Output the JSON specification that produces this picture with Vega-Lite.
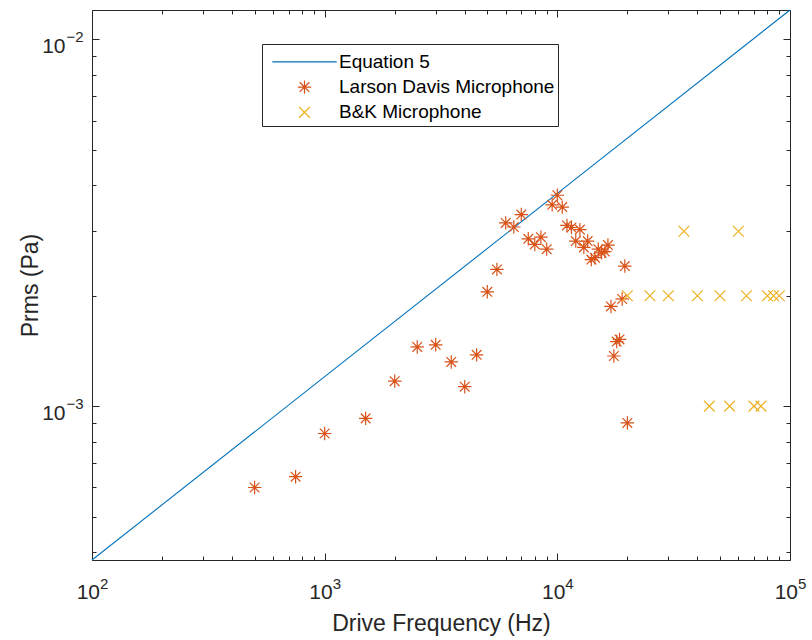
{
  "$schema": "https://vega.github.io/schema/vega-lite/v6.json",
  "width": 698,
  "height": 550,
  "autosize": {"type": "none"},
  "padding": {"left": 92, "top": 10, "right": 22, "bottom": 80},
  "background": "white",
  "config": {
    "view": {"stroke": "#262626", "strokeWidth": 1},
    "axis": {
      "grid": false,
      "domain": false,
      "labelFont": "Liberation Sans",
      "titleFont": "Liberation Sans",
      "labelColor": "#262626",
      "titleColor": "#262626",
      "tickColor": "#262626",
      "tickWidth": 1,
      "labelOverlap": false,
      "labelFlush": false,
      "labelBound": false,
      "titleFontWeight": "normal"
    },
    "legend": {
      "padding": 3,
      "strokeColor": "#262626",
      "fillColor": "white",
      "labelFont": "Liberation Sans",
      "labelFontSize": 19,
      "labelColor": "#000000",
      "labelLimit": 0,
      "symbolSize": 180,
      "symbolStrokeWidth": 1.2,
      "rowPadding": 5.3,
      "symbolOffset": 30,
      "labelOffset": 25,
      "titleFontSize": 1,
      "titlePadding": 4.3
    }
  },
  "datasets": {
    "equation": [
      {"f": 100, "p": 0.0003805},
      {"f": 1000, "p": 0.0012033},
      {"f": 10000, "p": 0.003805},
      {"f": 100000, "p": 0.012033}
    ],
    "larson": [
      {"f": 500, "p": 0.000600, "series": "Larson Davis Microphone"},
      {"f": 750, "p": 0.000642, "series": "Larson Davis Microphone"},
      {"f": 1000, "p": 0.000842, "series": "Larson Davis Microphone"},
      {"f": 1500, "p": 0.000926, "series": "Larson Davis Microphone"},
      {"f": 2000, "p": 0.00117, "series": "Larson Davis Microphone"},
      {"f": 2500, "p": 0.00145, "series": "Larson Davis Microphone"},
      {"f": 3000, "p": 0.00147, "series": "Larson Davis Microphone"},
      {"f": 3500, "p": 0.00132, "series": "Larson Davis Microphone"},
      {"f": 4000, "p": 0.00113, "series": "Larson Davis Microphone"},
      {"f": 4500, "p": 0.00138, "series": "Larson Davis Microphone"},
      {"f": 5000, "p": 0.00205, "series": "Larson Davis Microphone"},
      {"f": 5500, "p": 0.00236, "series": "Larson Davis Microphone"},
      {"f": 6000, "p": 0.00316, "series": "Larson Davis Microphone"},
      {"f": 6500, "p": 0.00308, "series": "Larson Davis Microphone"},
      {"f": 7000, "p": 0.00333, "series": "Larson Davis Microphone"},
      {"f": 7500, "p": 0.00286, "series": "Larson Davis Microphone"},
      {"f": 8000, "p": 0.00276, "series": "Larson Davis Microphone"},
      {"f": 8500, "p": 0.00289, "series": "Larson Davis Microphone"},
      {"f": 9000, "p": 0.00268, "series": "Larson Davis Microphone"},
      {"f": 9500, "p": 0.00354, "series": "Larson Davis Microphone"},
      {"f": 10000, "p": 0.00376, "series": "Larson Davis Microphone"},
      {"f": 10500, "p": 0.00349, "series": "Larson Davis Microphone"},
      {"f": 11000, "p": 0.00311, "series": "Larson Davis Microphone"},
      {"f": 11500, "p": 0.00307, "series": "Larson Davis Microphone"},
      {"f": 12000, "p": 0.00282, "series": "Larson Davis Microphone"},
      {"f": 12500, "p": 0.00303, "series": "Larson Davis Microphone"},
      {"f": 13000, "p": 0.00271, "series": "Larson Davis Microphone"},
      {"f": 13500, "p": 0.00282, "series": "Larson Davis Microphone"},
      {"f": 14000, "p": 0.00251, "series": "Larson Davis Microphone"},
      {"f": 14500, "p": 0.00254, "series": "Larson Davis Microphone"},
      {"f": 15000, "p": 0.00268, "series": "Larson Davis Microphone"},
      {"f": 15500, "p": 0.00262, "series": "Larson Davis Microphone"},
      {"f": 16000, "p": 0.00264, "series": "Larson Davis Microphone"},
      {"f": 16500, "p": 0.00275, "series": "Larson Davis Microphone"},
      {"f": 17000, "p": 0.00187, "series": "Larson Davis Microphone"},
      {"f": 17500, "p": 0.00137, "series": "Larson Davis Microphone"},
      {"f": 18000, "p": 0.00150, "series": "Larson Davis Microphone"},
      {"f": 18500, "p": 0.00152, "series": "Larson Davis Microphone"},
      {"f": 19000, "p": 0.00196, "series": "Larson Davis Microphone"},
      {"f": 19500, "p": 0.00241, "series": "Larson Davis Microphone"},
      {"f": 20000, "p": 0.000900, "series": "Larson Davis Microphone"}
    ],
    "bk": [
      {"f": 20000, "p": 0.002, "series": "B&K Microphone"},
      {"f": 25000, "p": 0.002, "series": "B&K Microphone"},
      {"f": 30000, "p": 0.002, "series": "B&K Microphone"},
      {"f": 35000, "p": 0.003, "series": "B&K Microphone"},
      {"f": 40000, "p": 0.002, "series": "B&K Microphone"},
      {"f": 45000, "p": 0.001, "series": "B&K Microphone"},
      {"f": 50000, "p": 0.002, "series": "B&K Microphone"},
      {"f": 55000, "p": 0.001, "series": "B&K Microphone"},
      {"f": 60000, "p": 0.003, "series": "B&K Microphone"},
      {"f": 65000, "p": 0.002, "series": "B&K Microphone"},
      {"f": 70000, "p": 0.001, "series": "B&K Microphone"},
      {"f": 75000, "p": 0.001, "series": "B&K Microphone"},
      {"f": 80000, "p": 0.002, "series": "B&K Microphone"},
      {"f": 85000, "p": 0.002, "series": "B&K Microphone"},
      {"f": 90000, "p": 0.002, "series": "B&K Microphone"}
    ]
  },
  "resolve": {"axis": {"x": "independent", "y": "independent"}},
  "layer": [
    {
      "data": {"name": "equation"},
      "mark": {"type": "line", "color": "#0072BD", "strokeWidth": 1.1},
      "encoding": {
        "x": {
          "field": "f", "type": "quantitative",
          "scale": {"type": "log", "domain": [100, 100000], "nice": false},
          "axis": {
            "orient": "bottom",
            "values": [100, 1000, 10000, 100000],
            "ticks": false,
            "labelExpr": "'10'",
            "labelFontSize": 21,
            "labelAlign": "right",
            "labelOffset": 7.5,
            "labelBaseline": "alphabetic",
            "labelPadding": 38,
            "title": "Drive Frequency (Hz)",
            "titleFontSize": 23,
            "titleBaseline": "alphabetic",
            "titleX": 349,
            "titleY": 70
          }
        },
        "y": {
          "field": "p", "type": "quantitative",
          "scale": {"type": "log", "domain": [0.0003805, 0.012033], "nice": false},
          "axis": {
            "orient": "left",
            "values": [0.001, 0.01],
            "ticks": false,
            "labelExpr": "'10'",
            "labelFontSize": 21,
            "labelAlign": "right",
            "labelBaseline": "alphabetic",
            "labelOffset": 13,
            "labelPadding": 27,
            "title": "Prms (Pa)",
            "titleFontSize": 23,
            "titleBaseline": "alphabetic",
            "titleAngle": -90,
            "titleX": -55,
            "titleY": 275
          }
        }
      }
    },
    {
      "data": {"name": "larson"},
      "mark": {"type": "point", "filled": false, "opacity": 1, "size": 180, "strokeWidth": 1.2},
      "encoding": {
        "x": {
          "field": "f", "type": "quantitative",
          "axis": {
            "orient": "bottom",
            "values": [100, 200, 300, 400, 500, 600, 700, 800, 900, 1000, 2000, 3000, 4000, 5000, 6000, 7000, 8000, 9000, 10000, 20000, 30000, 40000, 50000, 60000, 70000, 80000, 90000, 100000],
            "labelExpr": "abs(log(datum.value)/LN10 - round(log(datum.value)/LN10)) < 0.001 ? (round(log(datum.value)/LN10) < 0 ? '−' + abs(round(log(datum.value)/LN10)) : '' + round(log(datum.value)/LN10)) : ''",
            "labelFontSize": 15,
            "labelAlign": "left",
            "labelOffset": 7.5,
            "labelBaseline": "alphabetic",
            "labelPadding": 35,
            "tickSize": {"condition": {"test": "abs(log(datum.value)/LN10 - round(log(datum.value)/LN10)) < 0.001", "value": -7}, "value": -4},
            "title": null
          }
        },
        "y": {
          "field": "p", "type": "quantitative",
          "axis": {
            "orient": "left",
            "values": [0.0004, 0.0005, 0.0006, 0.0007, 0.0008, 0.0009, 0.001, 0.002, 0.003, 0.004, 0.005, 0.006, 0.007, 0.008, 0.009, 0.01],
            "labelExpr": "abs(log(datum.value)/LN10 - round(log(datum.value)/LN10)) < 0.001 ? (round(log(datum.value)/LN10) < 0 ? '−' + abs(round(log(datum.value)/LN10)) : '' + round(log(datum.value)/LN10)) : ''",
            "labelFontSize": 15,
            "labelAlign": "left",
            "labelBaseline": "alphabetic",
            "labelOffset": 2.5,
            "labelPadding": 33,
            "tickSize": {"condition": {"test": "abs(log(datum.value)/LN10 - round(log(datum.value)/LN10)) < 0.001", "value": -7}, "value": -4},
            "title": null
          }
        },
        "color": {
          "field": "series", "type": "nominal",
          "scale": {"domain": ["Equation 5", "Larson Davis Microphone", "B&K Microphone"], "range": ["#0072BD", "#D95319", "#EDB120"]},
          "legend": {"title": " ", "orient": "none", "legendX": 170, "legendY": 34}
        },
        "shape": {
          "field": "series", "type": "nominal",
          "scale": {"domain": ["Equation 5", "Larson Davis Microphone", "B&K Microphone"], "range": ["M-4.8,0L4.8,0", "M-1,0L1,0M0,-1L0,1M-0.72,-0.72L0.72,0.72M-0.72,0.72L0.72,-0.72", "M-0.8,-0.8L0.8,0.8M-0.8,0.8L0.8,-0.8"]},
          "legend": {"title": " ", "orient": "none", "legendX": 170, "legendY": 34}
        }
      }
    },
    {
      "data": {"name": "bk"},
      "mark": {"type": "point", "filled": false, "opacity": 1, "size": 180, "strokeWidth": 1.2},
      "encoding": {
        "x": {
          "field": "f", "type": "quantitative",
          "axis": {
            "orient": "top",
            "values": [100, 200, 300, 400, 500, 600, 700, 800, 900, 1000, 2000, 3000, 4000, 5000, 6000, 7000, 8000, 9000, 10000, 20000, 30000, 40000, 50000, 60000, 70000, 80000, 90000, 100000],
            "labels": false,
            "tickSize": {"condition": {"test": "abs(log(datum.value)/LN10 - round(log(datum.value)/LN10)) < 0.001", "value": -7}, "value": -4},
            "title": null
          }
        },
        "y": {
          "field": "p", "type": "quantitative",
          "axis": {
            "orient": "right",
            "values": [0.0004, 0.0005, 0.0006, 0.0007, 0.0008, 0.0009, 0.001, 0.002, 0.003, 0.004, 0.005, 0.006, 0.007, 0.008, 0.009, 0.01],
            "labels": false,
            "tickSize": {"condition": {"test": "abs(log(datum.value)/LN10 - round(log(datum.value)/LN10)) < 0.001", "value": -7}, "value": -4},
            "title": null
          }
        },
        "color": {"field": "series", "type": "nominal"},
        "shape": {"field": "series", "type": "nominal"}
      }
    }
  ]
}
